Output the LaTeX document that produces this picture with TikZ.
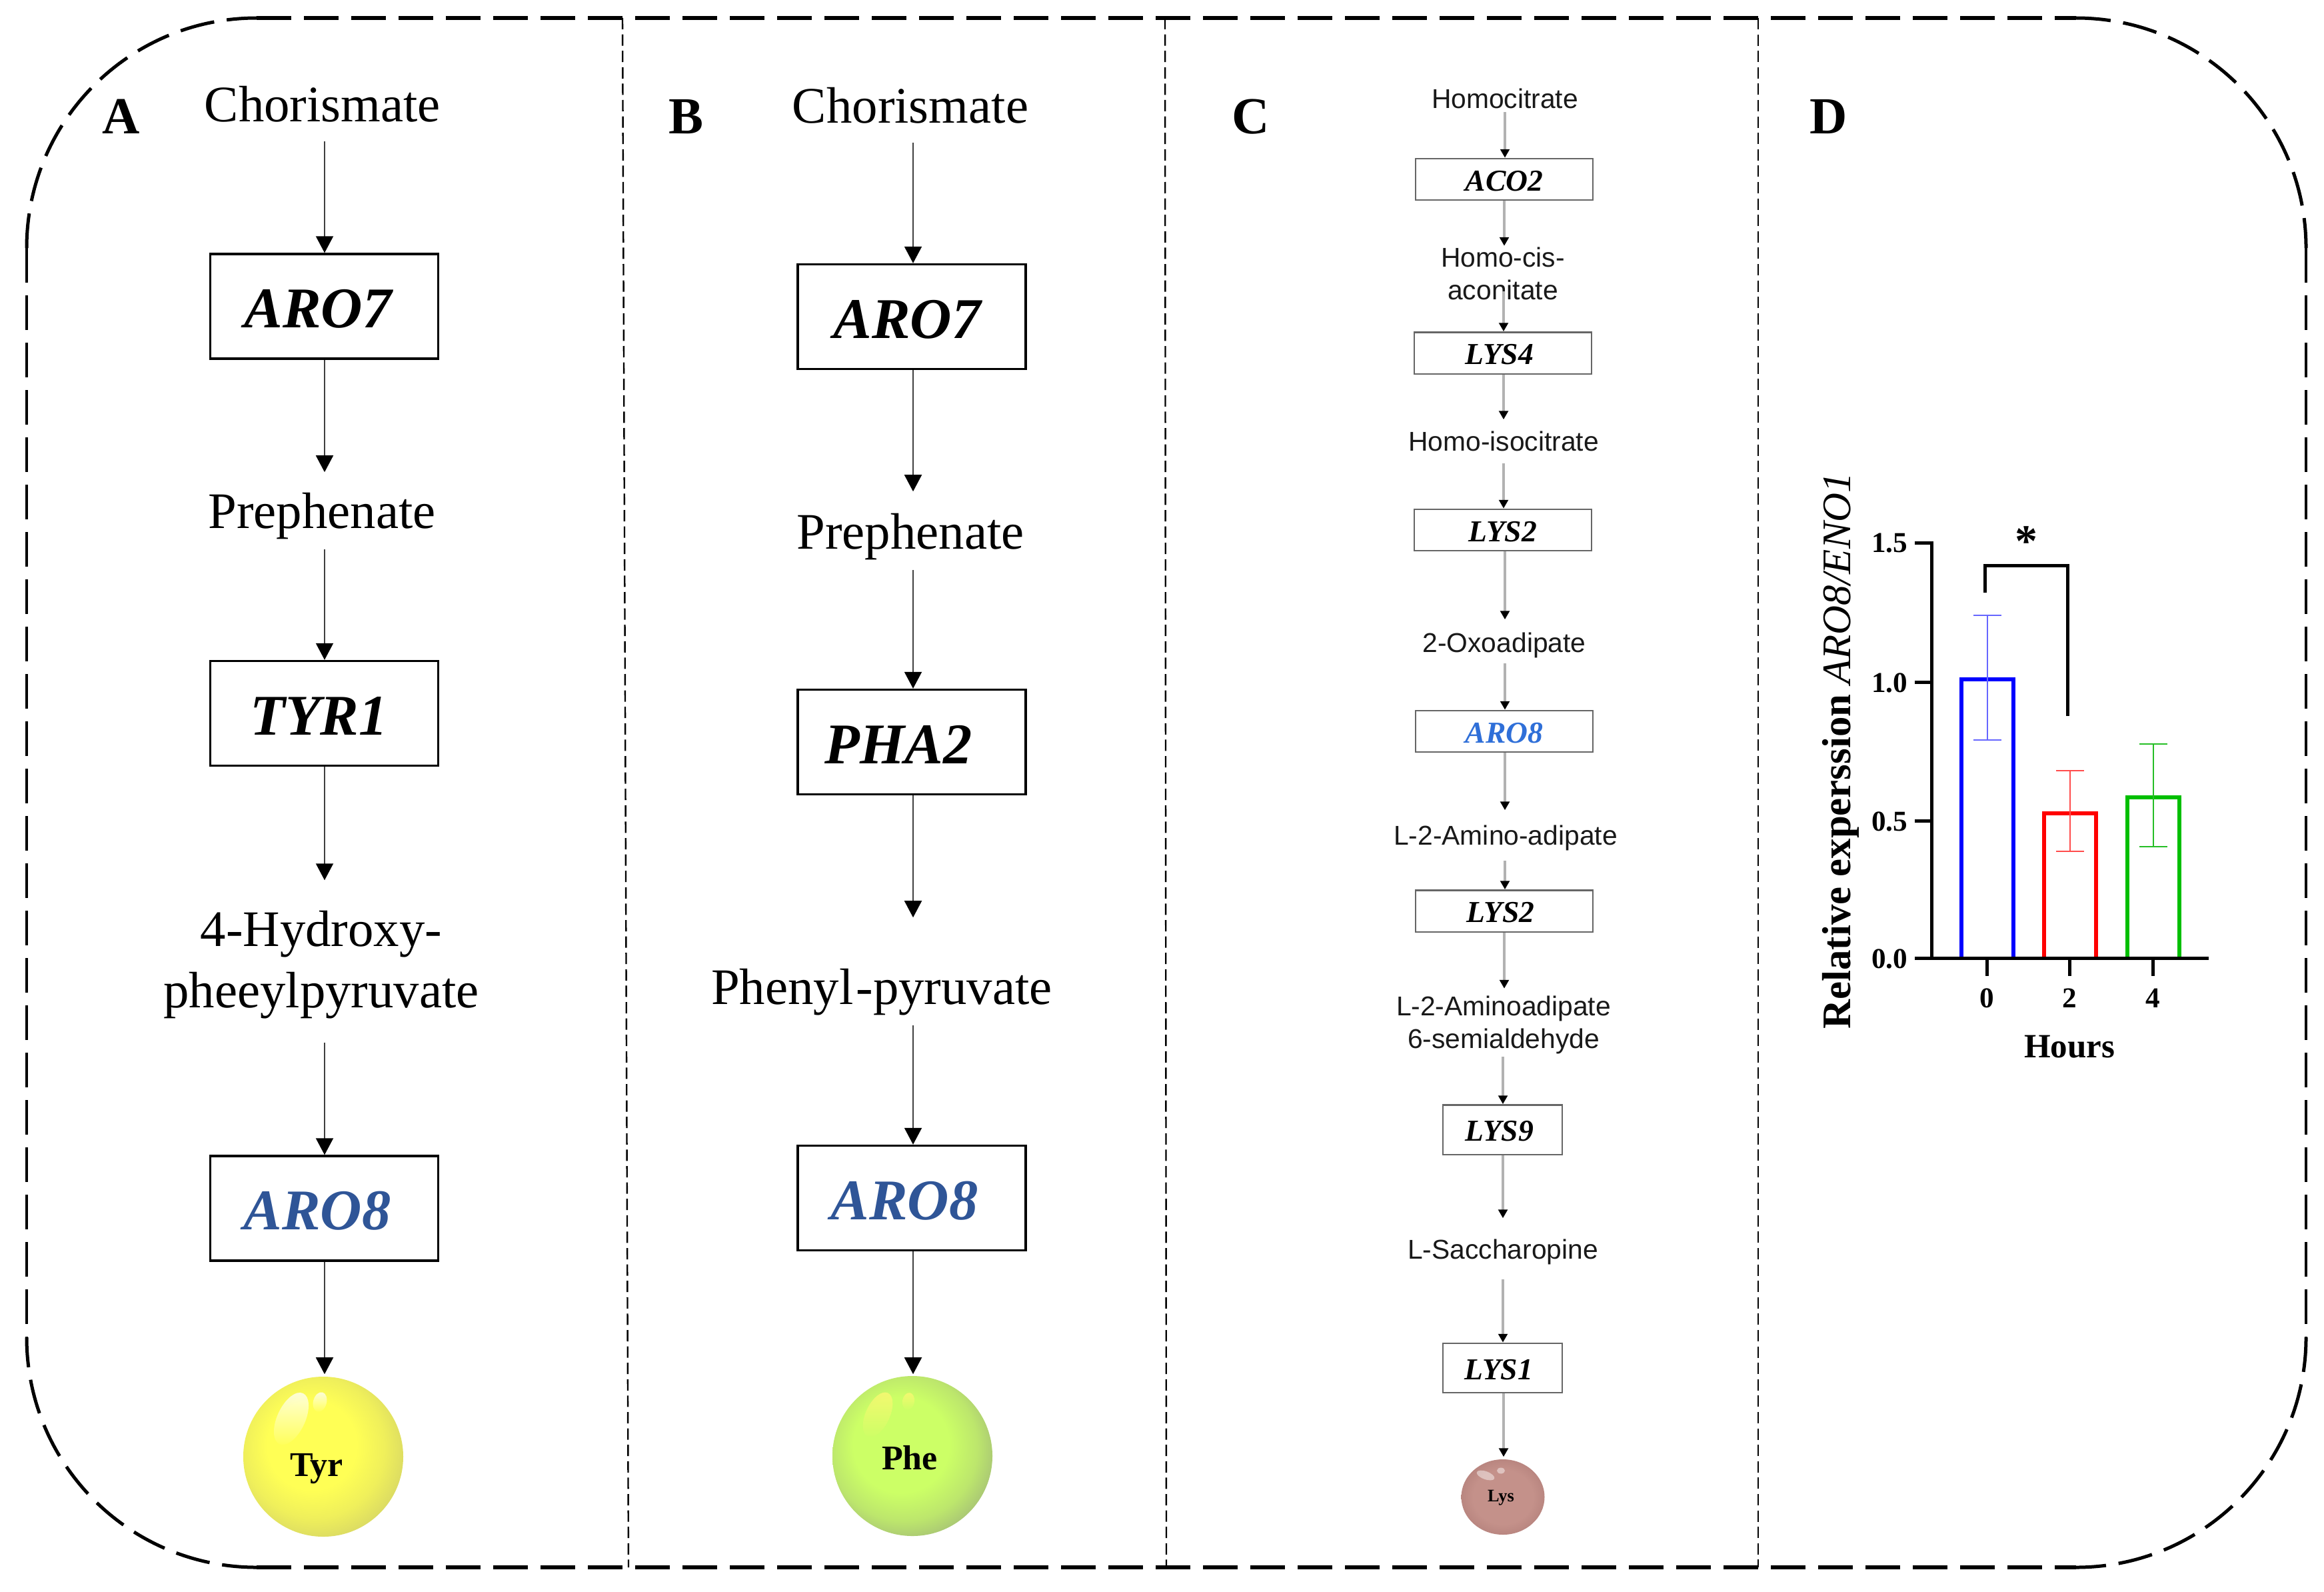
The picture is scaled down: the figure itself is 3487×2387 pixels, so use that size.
\documentclass[tikz,border=0pt]{standalone}
\usepackage{fontspec}
\setmainfont{Liberation Serif}
\newfontfamily\sansf{Liberation Sans}
\usetikzlibrary{arrows.meta,shapes.geometric,fadings}
\definecolor{aroblue}{HTML}{2F5597}
\definecolor{aroblueC}{HTML}{2F6FD8}
\definecolor{tyrc}{HTML}{FFFF55}
\definecolor{tyre}{HTML}{D2D266}
\pgfdeclareradialshading{tyrball}{\pgfpoint{-5bp}{5bp}}{color(0bp)=(tyrc);color(14bp)=(tyrc);color(22bp)=(tyrc!65!tyre);color(31bp)=(tyre);color(50bp)=(tyre)}
\definecolor{phec}{HTML}{CCFF66}
\definecolor{phee}{HTML}{A0B878}
\pgfdeclareradialshading{pheball}{\pgfpoint{-5bp}{5bp}}{color(0bp)=(phec);color(15bp)=(phec);color(23bp)=(phec!65!phee);color(31bp)=(phee);color(50bp)=(phee)}
\definecolor{lysc}{HTML}{C4918A}
\definecolor{lyse}{HTML}{B98680}
\pgfdeclareradialshading{lysball}{\pgfpoint{0bp}{0bp}}{color(0bp)=(lysc);color(18bp)=(lysc);color(25bp)=(lyse);color(50bp)=(lyse)}
\tikzset{
  outerh/.style={line width=1.6pt,dash pattern=on 13pt off 4.75pt},
  outerv/.style={line width=.95pt,dash pattern=on 13pt off 4.75pt},
  outerc/.style={line width=1.25pt,dash pattern=on 13pt off 4.75pt},
  divider/.style={line width=.6pt,dash pattern=on 4.25pt off 1.9pt},
  arr/.style={draw=black!75,line width=.5pt,-{Triangle[length=6.25pt,width=6.5pt,fill=black,color=black]}},
  arrc/.style={draw=black!30,line width=.8pt,-{Triangle[length=3.2pt,width=3.4pt,fill=black,color=black]}},
  met/.style={inner sep=0pt,anchor=base,font=\fontsize{19.2}{23}\selectfont,text height=13.5pt,text depth=3.9pt},
  metm/.style={inner sep=0pt,align=center,font=\fontsize{19.2}{23}\selectfont},
  sm/.style={inner sep=0pt,anchor=base,text=black!90,font=\sansf\fontsize{10.2}{12.25}\selectfont,text height=7.25pt,text depth=2.1pt},
  smm/.style={inner sep=0pt,align=center,text=black!90,font=\sansf\fontsize{10.2}{12.25}\selectfont},
  genebox/.style={draw=black,line width=.85pt,inner sep=0pt,minimum width=85.5pt,minimum height=39.25pt,text height=16.2pt,text depth=0pt,font=\bfseries\itshape\fontsize{21.6}{26}\selectfont},
  geneboxc/.style={draw=black!60,line width=.6pt,inner sep=0pt,minimum width=66.5pt,minimum height=15.6pt,text height=8.5pt,text depth=0pt,font=\bfseries\itshape\fontsize{11.4}{13}\selectfont},
  geneboxd/.style={geneboxc,minimum width=44.75pt,minimum height=18.6pt},
  panel/.style={inner sep=0pt,font=\bfseries\fontsize{19.5}{23}\selectfont},
  ball/.style={circle,inner sep=0pt,minimum size=60pt},
  balltxt/.style={inner sep=0pt,font=\bfseries\fontsize{13}{15}\selectfont},
  axisl/.style={line width=1.25pt,black},
  tickl/.style={inner sep=0pt,font=\bfseries\fontsize{10.8}{13}\selectfont},
  bar/.style={line width=1.5pt},
  err/.style={line width=.6pt},
  shine/.style={path fading=south,opacity=.8}
}
\newcommand{\conn}[5]{\draw[arr,shorten <=#4*.25pt,shorten >=#5*.25pt] (#1.south -| #3,0) -- (#2.north -| #3,0);}
\newcommand{\connc}[5]{\draw[arrc,shorten <=#4*.25pt,shorten >=#5*.25pt] (#1.south -| #3,0) -- (#2.north -| #3,0);}
\newcommand{\errbar}[4]{\draw[err,#1] (#2,#3) -- (#2,#4) (#2-21,#3) -- (#2+21,#3) (#2-21,#4) -- (#2+21,#4);}
\begin{document}
\begin{tikzpicture}[x=.25pt,y=-.25pt]
\useasboundingbox (0,0) rectangle (3487,2387);
% frame and dividers
\draw[outerh] (385,27) -- (3115,27);
\draw[outerh] (385,2351) -- (3115,2351);
\draw[outerv] (40,372) -- (40,2006);
\draw[outerv] (3460,372) -- (3460,2006);
\draw[outerc] (40,372) arc[start angle=180,end angle=270,radius=345];
\draw[outerc] (3115,27) arc[start angle=270,end angle=360,radius=345];
\draw[outerc] (3460,2006) arc[start angle=0,end angle=90,radius=345];
\draw[outerc] (385,2351) arc[start angle=90,end angle=180,radius=345];
\draw[divider] (934,27) -- (943,2351);
\draw[divider] (1748,27) -- (1750,2351);
\draw[divider] (2638,27) -- (2638,2351);
% panel letters
\node[panel] (pA) at (182,175) {A};
\node[panel] (pB) at (1029,175) {B};
\node[panel] (pC) at (1877,175) {C};
\node[panel] (pD) at (2744,175) {D};
% Panel A
\node[met] (acho) at (484,182) {Chorismate};
\node[genebox] (aaro7) at (486.5,459.5) {ARO7\kern4.75pt};
\node[met] (apre) at (483,792) {Prephenate};
\node[genebox] (atyr1) at (486.5,1070) {TYR1\kern4pt};
\node[metm] (ahyd) at (482,1447) {4-Hydroxy-\\pheeylpyruvate};
\node[genebox,text=aroblue] (aaro8) at (486.5,1812.5) {ARO8\kern5.25pt};
\node[ball,shading=tyrball] (tyr) at (485,2185) {};
\fill[white,shine] (437,2128) ellipse [x radius=42,y radius=21,rotate=65];
\fill[white,shine] (480,2103) ellipse [x radius=15,y radius=10,rotate=75];
\node[balltxt] (tyrt) at (475,2203) {Tyr};
\conn{acho}{aaro7}{487}{13.4}{0}
\conn{aaro7}{apre}{487}{0}{29}
\conn{apre}{atyr1}{487}{15.4}{0}
\conn{atyr1}{ahyd}{487}{0}{45}
\conn{ahyd}{aaro8}{487}{35}{0}
\conn{aaro8}{tyr}{487}{0}{3}
% Panel B
\node[met] (bcho) at (1366,184) {Chorismate};
\node[genebox] (baro7) at (1368,475) {ARO7\kern3.5pt};
\node[met] (bpre) at (1366,823) {Prephenate};
\node[genebox] (bpha2) at (1368,1113) {PHA2\kern10pt};
\node[met] (bphe) at (1323,1506) {Phenyl\kern1pt-pyruvate};
\node[genebox,text=aroblue] (baro8) at (1368,1797) {ARO8\kern5.5pt};
\node[ball,shading=pheball] (phe) at (1369,2184) {};
\fill[yellow!55!white,shine] (1317,2122) ellipse [x radius=36,y radius=18,rotate=65];
\fill[yellow!55!white,shine] (1363,2102) ellipse [x radius=13,y radius=9,rotate=80];
\node[balltxt] (phet) at (1365,2187) {Phe};
\conn{bcho}{baro7}{1370}{13.4}{0}
\conn{baro7}{bpre}{1370}{0}{31}
\conn{bpre}{bpha2}{1370}{15.4}{0}
\conn{bpha2}{bphe}{1370}{0}{75}
\conn{bphe}{baro8}{1370}{15.4}{0}
\conn{baro8}{phe}{1370}{0}{2}
% Panel C
\node[sm] (chom) at (2258,163) {Homocitrate};
\node[geneboxc] (caco) at (2257,269) {ACO2};
\node[smm] (ccis) at (2255,410) {Homo-cis-\\aconitate};
\node[geneboxc] (clys4) at (2255,529.5) {LYS4\kern2.5pt};
\node[sm] (ciso) at (2256,676) {Homo-isocitrate};
\node[geneboxc] (clys2) at (2255,795) {LYS2};
\node[sm] (coxo) at (2257,978) {2-Oxoadipate};
\node[geneboxc,text=aroblueC] (caro8) at (2257,1097) {ARO8};
\node[sm] (camia) at (2259,1267) {L-2-Amino-adipate};
\node[geneboxc] (clys2b) at (2257,1366.5) {LYS2\kern2.75pt};
\node[smm] (cald) at (2256,1537) {L-2-Aminoadipate\\6-semialdehyde};
\node[geneboxd] (clys9) at (2254.5,1694.5) {LYS9\kern2.25pt};
\node[sm] (csac) at (2255,1888) {L-Saccharopine};
\node[geneboxd] (clys1) at (2254.5,2052) {LYS1\kern2.75pt};
\node[ellipse,inner sep=0pt,minimum width=31.25pt,minimum height=28.25pt,shading=lysball] (lys) at (2255,2245.5) {};
\fill[white,opacity=.45] (2229,2213) ellipse [x radius=14,y radius=6,rotate=-20];
\fill[white,opacity=.45] (2252,2206) ellipse [x radius=6,y radius=4.5];
\node[inner sep=0pt,font=\bfseries\fontsize{6.6}{8}\selectfont] (lyst) at (2252,2247) {Lys};
\connc{chom}{caco}{2258}{-4.4}{0}
\connc{caco}{ccis}{2257}{0}{1}
\connc{ccis}{clys4}{2256}{-13}{0}
\connc{clys4}{ciso}{2256}{0}{17}
\connc{ciso}{clys2}{2256}{9.6}{0}
\connc{clys2}{coxo}{2258}{0}{19}
\connc{coxo}{caro8}{2258}{8}{0}
\connc{caro8}{camia}{2258}{0}{22}
\connc{camia}{clys2b}{2258}{15}{0}
\connc{clys2b}{cald}{2257}{0}{10}
\connc{cald}{clys9}{2255}{4}{0}
\connc{clys9}{csac}{2255}{0}{31}
\connc{csac}{clys1}{2255}{22}{0}
\connc{clys1}{lys}{2256}{0}{3}
% Panel D chart
\draw[bar,blue] (2943,1437) -- (2943,1019) -- (3021,1019) -- (3021,1437);
\draw[bar,red] (3067,1437) -- (3067,1220) -- (3145,1220) -- (3145,1437);
\draw[bar,green!75!black] (3192,1437) -- (3192,1196) -- (3270,1196) -- (3270,1437);
\errbar{blue!60}{2982}{923}{1110}
\errbar{red!70}{3106}{1156}{1277}
\errbar{green!70!black!85}{3231}{1116}{1270}
\draw[axisl] (2873,814) -- (2898,814) -- (2898,1437);
\draw[axisl] (2873,1023) -- (2898,1023);
\draw[axisl] (2873,1231) -- (2898,1231);
\draw[axisl] (2873,1437) -- (3314,1437);
\draw[axisl] (2981,1437) -- (2981,1464);
\draw[axisl] (3105,1437) -- (3105,1464);
\draw[axisl] (3230,1437) -- (3230,1464);
\draw[axisl] (2978,889) -- (2978,848) -- (3102,848) -- (3102,1074);
\node[tickl,anchor=east] (t15) at (2863,815) {1.5};
\node[tickl,anchor=east] (t10) at (2863,1024) {1.0};
\node[tickl,anchor=east] (t05) at (2863,1232) {0.5};
\node[tickl,anchor=east] (t00) at (2863,1438) {0.0};
\node[tickl] (x0) at (2981,1497) {0};
\node[tickl] (x2) at (3105,1497) {2};
\node[tickl] (x4) at (3230,1497) {4};
\node[inner sep=0pt,font=\bfseries\fontsize{12.75}{15}\selectfont] (xt) at (3105,1570) {Hours};
\node[inner sep=0pt,font=\bfseries\fontsize{17}{20}\selectfont] (star) at (3040,812) {*};
\node[inner sep=0pt,anchor=base west,rotate=90,font=\fontsize{15.2}{19}\selectfont] (yt) at (2776,1544) {\textbf{Relative experssion} \textit{ARO8/ENO1}};
\end{tikzpicture}
\end{document}
